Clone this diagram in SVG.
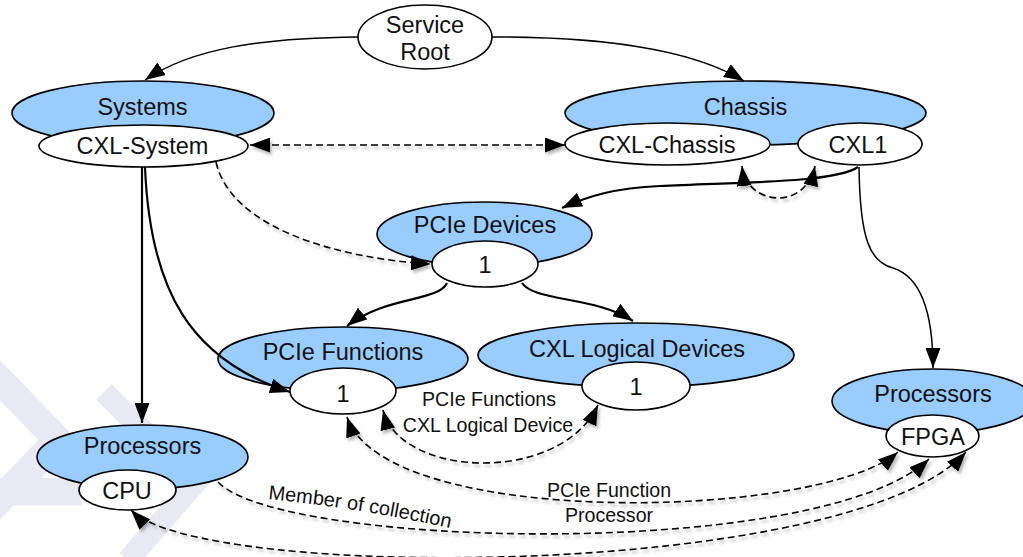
<svg xmlns="http://www.w3.org/2000/svg" width="1023" height="557" viewBox="0 0 1023 557">
  <defs>
    <style>
      .blue { fill: #99ccff; stroke: #000; stroke-width: 1.6; }
      .inst { fill: #fff; stroke: #000; stroke-width: 1.6; }
      .lbl { font-family: "Liberation Sans", Arial, sans-serif; font-size: 23.5px; fill: #111; text-anchor: middle; }
      .elbl { font-family: "Liberation Sans", Arial, sans-serif; font-size: 19.6px; fill: #111; text-anchor: middle; }
      .thin { fill: none; stroke: #000; stroke-width: 1.5; marker-end: url(#head); }
      .thick { fill: none; stroke: #000; stroke-width: 2.2; marker-end: url(#head); }
      .ref { fill: none; stroke: #000; stroke-width: 1.6; stroke-dasharray: 7 4; }
      .both { marker-start: url(#head); marker-end: url(#head); }
      .one { marker-end: url(#head); }
      .mark { fill: none; stroke: #e8e9f3; stroke-linejoin: miter; }
    </style>
    <marker id="head" viewBox="0 0 20 15" refX="20" refY="7.5" markerWidth="20" markerHeight="15" markerUnits="userSpaceOnUse" orient="auto-start-reverse">
      <path d="M0,0 L20,7.5 L0,15 Z" fill="#000"/>
    </marker>
    <filter id="shadow" filterUnits="userSpaceOnUse" x="0" y="0" width="1023" height="557">
      <feDropShadow dx="2" dy="3" stdDeviation="1.6" flood-color="#000" flood-opacity="0.28"/>
    </filter>
    <path id="memberPath" d="M268,499 Q360,508 458,530"/>
  </defs>

  <rect width="1023" height="557" fill="#fff"/>

  <!-- background chevrons -->
  <g id="backdrop">
    <polyline class="mark" stroke-width="28" points="-12,368 58,440 -12,512"/>
    <rect x="0" y="478" width="82" height="27" fill="#e8e9f3"/>
    <polyline class="mark" stroke-width="22" points="104,392 196,482 128,560"/>
  </g>

  <!-- nodes -->
  <g id="service-root">
    <ellipse class="inst" cx="425" cy="37" rx="67" ry="32"/>
    <text class="lbl" x="425" y="33">Service</text>
    <text class="lbl" x="425" y="60">Root</text>
  </g>

  <g id="systems">
    <ellipse class="blue" cx="143" cy="113" rx="131" ry="32"/>
    <text class="lbl" x="142.5" y="115">Systems</text>
  </g>
  <g id="cxl-system">
    <ellipse class="inst" cx="143.5" cy="146" rx="104.5" ry="21"/>
    <text class="lbl" x="142.5" y="154">CXL-System</text>
  </g>

  <g id="chassis">
    <ellipse class="blue" cx="745.5" cy="113" rx="180.5" ry="32"/>
    <text class="lbl" x="745.5" y="115">Chassis</text>
  </g>
  <g id="cxl-chassis">
    <ellipse class="inst" cx="667.5" cy="144" rx="102.5" ry="21"/>
    <text class="lbl" x="667" y="153">CXL-Chassis</text>
  </g>
  <g id="cxl1">
    <ellipse class="inst" cx="860" cy="144" rx="62" ry="21"/>
    <text class="lbl" x="858" y="153">CXL1</text>
  </g>

  <g id="pcie-devices">
    <ellipse class="blue" cx="484.5" cy="234" rx="107.5" ry="32"/>
    <text class="lbl" x="485" y="233">PCIe Devices</text>
  </g>
  <g id="pcie-device-1">
    <ellipse class="inst" cx="485" cy="264" rx="53" ry="23"/>
    <text class="lbl" x="485" y="273">1</text>
  </g>

  <g id="pcie-functions">
    <ellipse class="blue" cx="343" cy="359" rx="125" ry="32"/>
    <text class="lbl" x="343" y="360">PCIe Functions</text>
  </g>
  <g id="pcie-function-1">
    <ellipse class="inst" cx="343" cy="391" rx="53" ry="23"/>
    <text class="lbl" x="343" y="402">1</text>
  </g>

  <g id="cxl-logical-devices">
    <ellipse class="blue" cx="636" cy="355" rx="158" ry="32"/>
    <text class="lbl" x="637" y="357">CXL Logical Devices</text>
  </g>
  <g id="cxl-logical-device-1">
    <ellipse class="inst" cx="636" cy="386" rx="54" ry="24"/>
    <text class="lbl" x="636" y="395">1</text>
  </g>

  <g id="processors-system">
    <ellipse class="blue" cx="142.5" cy="457" rx="105.5" ry="32"/>
    <text class="lbl" x="142.5" y="454">Processors</text>
  </g>
  <g id="cpu">
    <ellipse class="inst" cx="127.5" cy="490" rx="48.5" ry="20"/>
    <text class="lbl" x="127" y="499">CPU</text>
  </g>

  <g id="processors-chassis">
    <ellipse class="blue" cx="933" cy="401" rx="101" ry="32"/>
    <text class="lbl" x="933" y="402">Processors</text>
  </g>
  <g id="fpga">
    <ellipse class="inst" cx="932.5" cy="436" rx="46.5" ry="21"/>
    <text class="lbl" x="933" y="445">FPGA</text>
  </g>

  <!-- connectors -->
  <g id="connectors">
    <!-- containment links -->
    <path class="thin" d="M358,37 C262,38 192,48 145,80"/>
    <path class="thin" d="M492,37 C600,37 690,48 744,81"/>
    <path class="thick" d="M142,167 L142,423"/>
    <path class="thick" d="M145,167 C150,290 190,360 290,392"/>
    <path class="thick" d="M858,167 C835,183 740,182 660,186 C615,188 588,196 562,208"/>
    <path class="thin" d="M859,167 C860,240 870,262 893,268 C915,275 933,300 933,368"/>
    <path class="thick" d="M447,283 C438,302 385,296 347,326"/>
    <path class="thick" d="M522,283 C535,302 595,296 633,321"/>

    <!-- related-item links -->
    <g filter="url(#shadow)">
      <path class="ref both" d="M250,145 L565,145"/>
      <path class="ref one" d="M216,162 C230,225 330,258 431,264"/>
      <path class="ref both" d="M742,166 C746,205 805,212 815,166"/>
      <path class="ref both" d="M383,410 C400,478 560,485 598,405"/>
      <path class="ref both" d="M347,417 C385,530 820,520 898,452"/>
      <path class="ref one" d="M218,482 C280,548 820,562 929,459"/>
      <path class="ref both" d="M131,510 C200,582 850,580 966,452"/>
    </g>

    <!-- link labels -->
    <text class="elbl" x="489" y="406">PCIe Functions</text>
    <text class="elbl" x="488" y="432">CXL Logical Device</text>
    <text class="elbl" x="609" y="497">PCIe Function</text>
    <text class="elbl" x="609" y="522">Processor</text>
    <text class="elbl" style="text-anchor:start;font-size:20px"><textPath href="#memberPath">Member of collection</textPath></text>
  </g>
</svg>
